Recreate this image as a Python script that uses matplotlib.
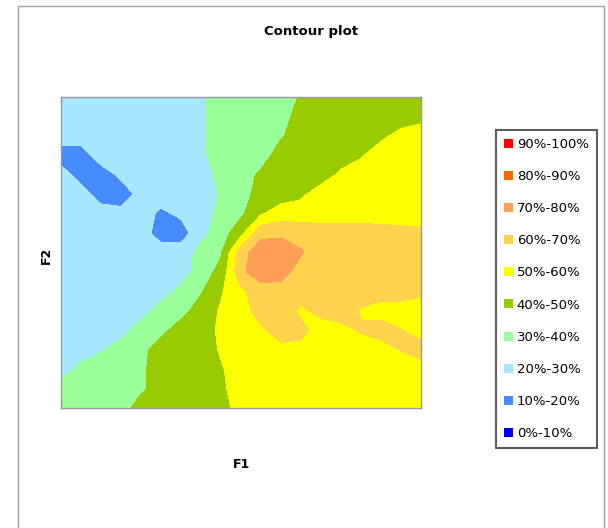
import numpy as np
import matplotlib
matplotlib.use("Agg")
import matplotlib.pyplot as plt
from matplotlib.patches import Patch, Rectangle

# percentage surface sampled on a regular F1 x F2 grid (rows listed top to bottom)
z_rows = [
    [25, 25, 25, 25, 25, 25, 25, 28, 35, 35, 35, 35, 41, 45, 45, 45, 45, 45, 45],
    [25, 25, 25, 25, 25, 25, 25, 28, 35, 35, 35, 35, 45, 45, 45, 45, 45, 45, 47],
    [25, 25, 25, 25, 25, 25, 25, 28, 35, 35, 35, 39, 45, 45, 45, 45, 48, 53, 55],
    [15, 15, 25, 25, 25, 25, 25, 28, 35, 35, 35, 45, 45, 45, 45, 49, 55, 55, 55],
    [25, 15, 15, 22, 25, 25, 25, 25, 33, 35, 42, 45, 45, 45, 52, 55, 55, 55, 55],
    [25, 25, 15, 15, 23, 25, 25, 25, 31, 35, 45, 45, 48, 55, 55, 55, 55, 55, 55],
    [25, 25, 25, 23, 25, 18, 22, 25, 33, 38, 49, 55, 55, 55, 55, 55, 55, 55, 55],
    [25, 25, 25, 25, 25, 15, 15, 27, 35, 47, 67, 68, 66, 65, 65, 65, 64, 63, 62],
    [25, 25, 25, 25, 25, 25, 25, 33, 39, 66, 76, 76, 71, 65, 65, 65, 65, 65, 65],
    [25, 25, 25, 25, 25, 25, 25, 35, 43, 68, 76, 75, 65, 65, 65, 65, 65, 65, 65],
    [25, 25, 25, 25, 25, 25, 33, 39, 49, 58, 65, 65, 65, 65, 65, 65, 65, 65, 62],
    [25, 25, 25, 25, 25, 35, 36, 45, 51, 55, 65, 65, 58, 63, 65, 59, 55, 55, 55],
    [25, 25, 25, 26, 35, 37, 45, 45, 52, 55, 58, 65, 63, 55, 57, 61, 65, 60.5, 55],
    [25, 25, 29, 35, 37, 45, 45, 45, 51, 55, 55, 57, 57, 55, 55, 55, 55, 60.5, 65],
    [25, 33, 35, 35, 38, 45, 45, 45, 49, 55, 55, 55, 55, 55, 55, 55, 55, 55, 55],
    [35, 35, 35, 35, 38, 45, 45, 45, 48, 55, 55, 55, 55, 55, 55, 55, 55, 55, 55],
    [35, 35, 35, 35, 45, 45, 45, 45, 45, 55, 55, 55, 55, 55, 55, 55, 55, 55, 55],
]

levels = [0, 10, 20, 30, 40, 50, 60, 70, 80, 90, 100]
band_labels = ["0%-10%", "10%-20%", "20%-30%", "30%-40%", "40%-50%",
               "50%-60%", "60%-70%", "70%-80%", "80%-90%", "90%-100%"]
band_colors = ["#0000FF", "#468CFF", "#A6E6FF", "#99FF99", "#99CC00",
               "#FFFF00", "#FFD24D", "#FF9E55", "#FF6600", "#FF0000"]

Z = np.array(z_rows, dtype=float)[::-1]
F1 = np.arange(Z.shape[1])
F2 = np.arange(Z.shape[0])

W, H = 608, 528
fig = plt.figure(figsize=(W / 100, H / 100), dpi=100)

# chart area border
fig.patches.append(Rectangle((18 / W, -0.05), 586 / W, 1.05 - 6 / H,
                             transform=fig.transFigure, fill=False,
                             edgecolor="#A0A0A0", linewidth=1))

ax = fig.add_axes([61 / W, 1 - 408 / H, 360 / W, 311 / H])
ax.contourf(F1, F2, Z, levels=levels, colors=band_colors)
ax.set_xlim(F1[0], F1[-1])
ax.set_ylim(F2[0], F2[-1])
ax.set_xticks([])
ax.set_yticks([])
for sp in ax.spines.values():
    sp.set_color("#999999")
    sp.set_linewidth(1)

fig.text(311 / W, 1 - 32 / H, "Contour plot", ha="center", va="center",
         fontsize=9.5, fontweight="bold")
fig.text(241 / W, 1 - 465 / H, "F1", ha="center", va="center",
         fontsize=9, fontweight="bold")
fig.text(46 / W, 1 - 255 / H, "F2", ha="center", va="center",
         fontsize=9, fontweight="bold", rotation=90)

handles = [Patch(facecolor=c, edgecolor="none") for c in band_colors[::-1]]
leg = fig.legend(handles, band_labels[::-1], loc="upper left",
                 bbox_to_anchor=(496 / W, 1 - 130 / H),
                 fontsize=9.5, frameon=True, fancybox=False,
                 handlelength=0.68, handleheight=0.68, handletextpad=0.3,
                 labelspacing=1.45, borderpad=0.6, borderaxespad=0)
leg.get_frame().set_edgecolor("#333333")
leg.get_frame().set_linewidth(1.5)

fig.savefig("out.png", dpi=100)
